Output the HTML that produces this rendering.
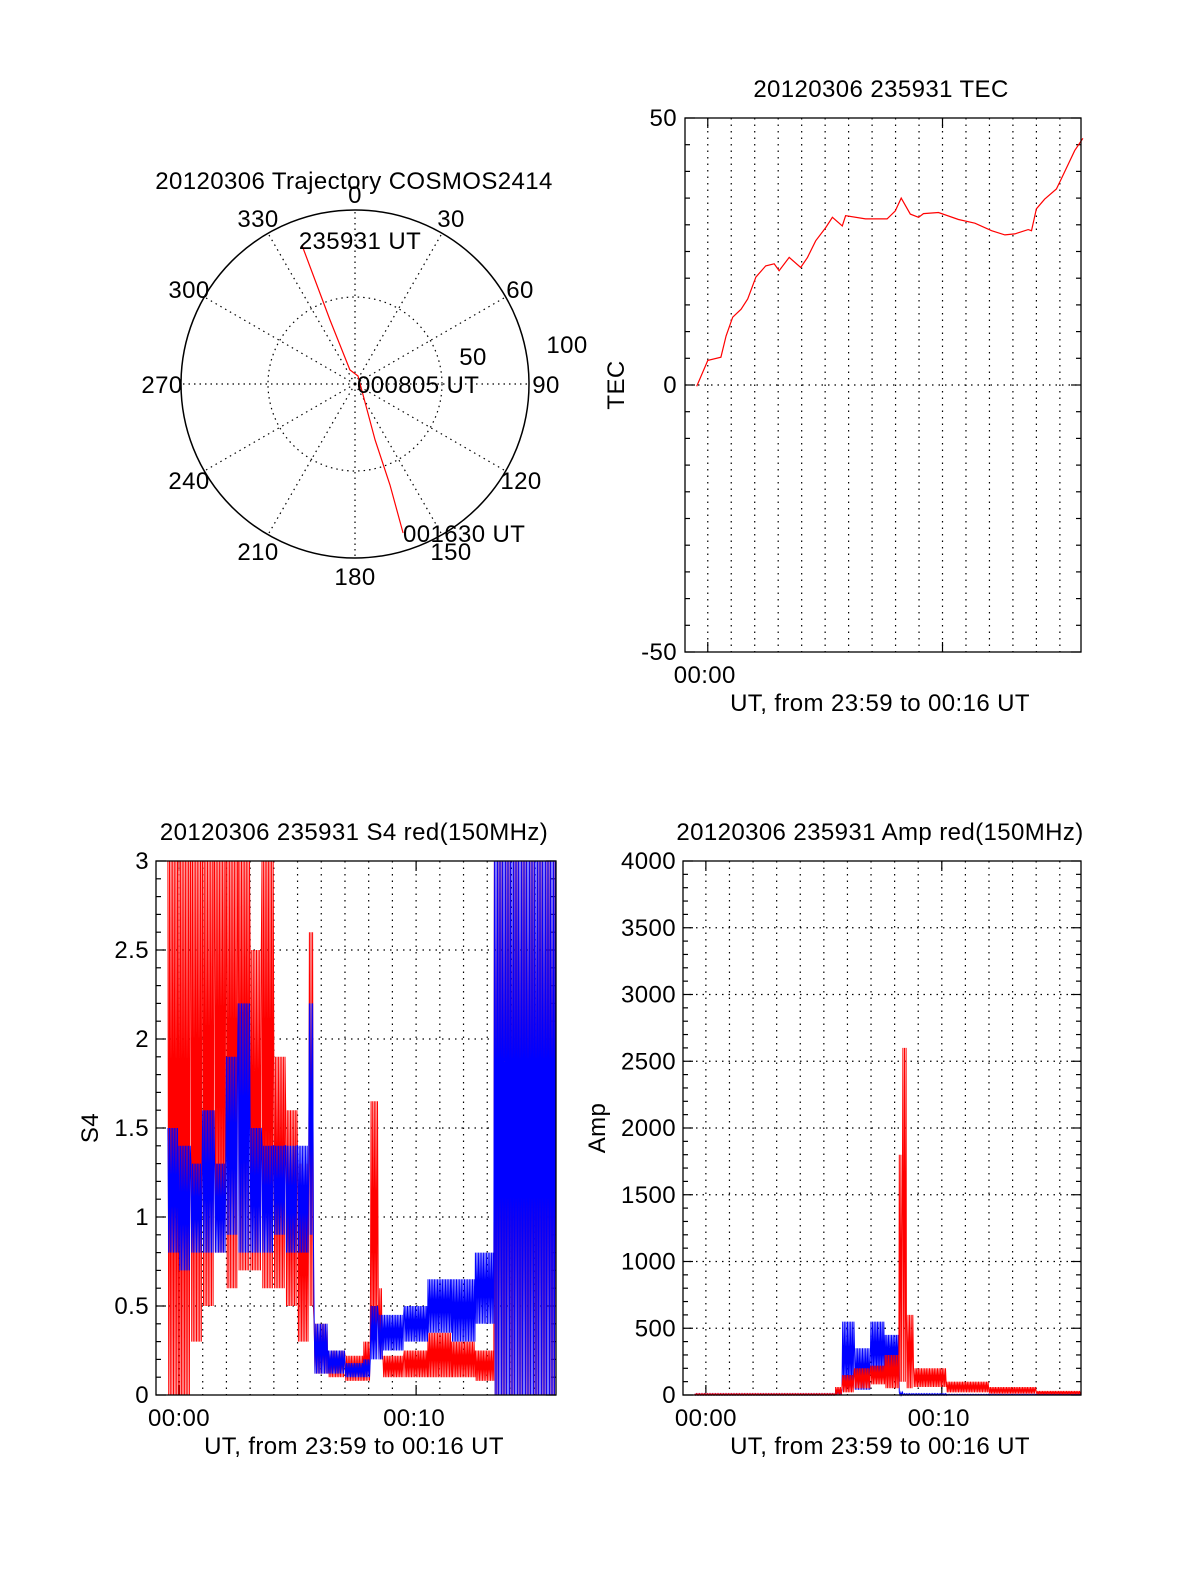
<!DOCTYPE html>
<html><head><meta charset="utf-8"><style>
html,body{margin:0;padding:0;background:#fff;overflow:hidden;width:1200px;height:1575px}
svg{display:block}
svg text{font-family:"Liberation Sans",Arial,sans-serif;font-size:24px;letter-spacing:0.4px;fill:#000}
</style></head><body>
<svg id="chart" width="1200" height="1575" viewBox="0 0 1200 1575" xmlns="http://www.w3.org/2000/svg"></svg>
<script>
// ---- Data ----
const trajR  = [85.5, 39.5, 8.6, 4.9, 34.2, 61.4, 90];
const trajAz = [339.1, 338.7, 340, 20.6, 160.3, 160.9, 162.1];
const polarLabels = ["0","30","60","90","120","150","180","210","240","270","300","330"];
const tecTime = [-0.47,0.00,0.56,0.78,1.06,1.42,1.70,2.05,2.47,2.83,3.04,3.47,3.96,4.25,4.60,5.03,5.31,5.73,5.87,6.72,7.64,7.99,8.24,8.63,8.98,9.19,9.83,10.68,11.38,12.09,12.66,13.08,13.65,13.79,14.00,14.35,14.85,15.06,15.63,15.98];
const tecVal  = [-0.25,4.6,5.2,9.2,12.7,14.2,16.1,20.2,22.3,22.7,21.4,23.9,22.0,23.9,27.0,29.5,31.4,29.8,31.7,31.1,31.1,32.6,35.0,32.0,31.4,32.1,32.3,31.0,30.3,28.9,28.1,28.3,29.1,28.9,33.0,34.8,36.7,38.6,43.9,46.2];
const tecTicks = ["50","0","-50"];
const s4T0    = [-0.47,0.0,0.5,1.0,1.5,2.0,2.5,3.0,3.5,4.0,4.5,5.0,5.5,5.7,6.3,7.0,7.8,8.1,8.4,8.6,9.5,10.5,11.5,12.5,13.3];
const s4T1    = [0.0,0.5,1.0,1.5,2.0,2.5,3.0,3.5,4.0,4.5,5.0,5.5,5.7,6.3,7.0,7.8,8.1,8.4,8.6,9.5,10.5,11.5,12.5,13.3,15.9];
const s4RedLo = [0,0,0.3,0.5,0.8,0.6,0.7,0.7,0.6,0.6,0.5,0.3,0.5,0.12,0.1,0.08,0.08,0.3,0.2,0.1,0.1,0.1,0.1,0.08,0];
const s4RedHi = [3,3,3,3,3,3,3,2.5,3,1.9,1.6,1.3,2.6,0.4,0.25,0.22,0.3,1.65,0.6,0.22,0.25,0.35,0.3,0.25,3];
const s4BlueLo= [0.8,0.7,0.8,0.8,0.8,0.9,0.8,0.8,0.8,0.9,0.8,0.8,0.9,0.12,0.12,0.1,0.1,0.2,0.2,0.25,0.3,0.35,0.3,0.4,0];
const s4BlueHi= [1.5,1.4,1.3,1.6,1.3,1.9,2.2,1.5,1.4,1.4,1.4,1.4,2.2,0.4,0.25,0.18,0.2,0.5,0.45,0.45,0.5,0.65,0.65,0.8,3];
const s4Ticks = ["0","0.5","1","1.5","2","2.5","3"];
const ampT0    = [-0.47,5.5,5.8,6.3,7.0,7.6,8.2,8.35,8.5,8.8,10.2,12.0,14.0];
const ampT1    = [5.5,5.8,6.3,7.0,7.6,8.2,8.35,8.5,8.8,10.2,12.0,14.0,15.9];
const ampRedLo = [0,0,20,50,80,50,100,100,50,60,20,10,5];
const ampRedHi = [10,60,150,200,220,300,1800,2600,600,200,100,60,30];
const ampBlueLo= [0,0,50,40,150,200,0,0,0,0,0,0,0];
const ampBlueHi= [10,40,550,350,550,450,20,10,10,10,5,5,5];
const ampTicks = ["0","500","1000","1500","2000","2500","3000","3500","4000"];

// ---- Helpers ----
const NS="http://www.w3.org/2000/svg";
const svg=document.getElementById('chart');
function mk(tag,attrs,parent){const e=document.createElementNS(NS,tag);for(const k in attrs)e.setAttribute(k,attrs[k]);(parent||svg).appendChild(e);return e;}
function txt(s,x,y,anchor,parent){const e=mk('text',{x:x,y:y,'text-anchor':anchor||'middle'},parent);e.textContent=s;return e;}
const TMIN=-0.97,TMAX=15.9;

function makePanel(name,L,T,W,H,ymin,ymax){
  const g=mk('g',{});
  
  
  const sx=t=>L+(t-TMIN)/(TMAX-TMIN)*W;
  const sy=v=>T+H-(v-ymin)/(ymax-ymin)*H;
  return {g,sx,sy,L,T,W,H};
}
function frame(p,name){
  const r=mk('rect',{x:p.L,y:p.T,width:p.W,height:p.H,fill:'none',stroke:'#000','stroke-width':1.3},p.g);
  
  
}
function vgrid(p){
  for(let m=0;m<=15;m++){
    const x=p.sx(m);
    const l=mk('line',{x1:x,y1:p.T,x2:x,y2:p.T+p.H,stroke:'#000','stroke-width':1.2,'stroke-dasharray':'1.5,5'},p.g);
    
    
    if(m%10===0){
      mk('line',{x1:x,y1:p.T+p.H,x2:x,y2:p.T+p.H-10,stroke:'#000','stroke-width':1.2},p.g);
      mk('line',{x1:x,y1:p.T,x2:x,y2:p.T+10,stroke:'#000','stroke-width':1.2},p.g);
    }
  }
}
function ytick(p,v,len){
  const y=p.sy(v);
  mk('line',{x1:p.L,y1:y,x2:p.L+len,y2:y,stroke:'#000','stroke-width':1.2},p.g);
  mk('line',{x1:p.L+p.W,y1:y,x2:p.L+p.W-len,y2:y,stroke:'#000','stroke-width':1.2},p.g);
}
function hgrid(p,v){
  const y=p.sy(v);
  const l=mk('line',{x1:p.L,y1:y,x2:p.L+p.W,y2:y,stroke:'#000','stroke-width':1.2,'stroke-dasharray':'1.5,5'},p.g);
  
  
}
function envelope(p,t0,t1,lo,hi,color,name){
  let d='';
  for(let i=0;i<t0.length;i++){
    const xa=p.sx(t0[i]),xb=p.sx(t1[i]);
    let k=0;
    for(let x=xa;x<=xb;x+=0.8,k++){
      const v=(k%2===0)?hi[i]:lo[i];
      d+=(d===''?'M':'L')+x.toFixed(1)+','+p.sy(v).toFixed(1);
    }
  }
  const path=mk('path',{d:d,fill:'none',stroke:color,'stroke-width':1},p.g);
  
  
}

// ---- Polar trajectory ----
(function(){
  const g=mk('g',{});
  
  
  const cx=355,cy=384,R=174;
  const t=txt('20120306 Trajectory COSMOS2414',354,189,'middle',g);
  
  
  for(let a=0;a<360;a+=30){
    const rad=a*Math.PI/180;
    mk('line',{x1:cx,y1:cy,x2:cx+R*Math.sin(rad),y2:cy-R*Math.cos(rad),stroke:'#000','stroke-width':1.2,'stroke-dasharray':'1.5,4'},g);
  }
  mk('circle',{cx:cx,cy:cy,r:87,fill:'none',stroke:'#000','stroke-width':1.2,'stroke-dasharray':'1.5,4'},g);
  const oc=mk('circle',{cx:cx,cy:cy,r:R,fill:'none',stroke:'#000','stroke-width':1.5},g);
  
  
  const pos=[[355,203],[451,227],[520,298],[546,393],[521,489],[451,560],[355,585],[258,560],[189,489],[162,393],[189,298],[258,227]];
  polarLabels.forEach((s,i)=>{const e=txt(s,pos[i][0],pos[i][1],'middle',g);
    
    });
  txt('50',473,365,'middle',g);
  txt('100',567,353,'middle',g);
  let d='';
  trajR.forEach((r,i)=>{const rad=trajAz[i]*Math.PI/180;const rr=r/100*R;
    d+=(i?'L':'M')+(cx+rr*Math.sin(rad)).toFixed(1)+','+(cy-rr*Math.cos(rad)).toFixed(1);});
  const tp=mk('path',{d:d,fill:'none',stroke:'#f00','stroke-width':1.2},g);
  
  
  txt('235931 UT',360,249,'middle',g);
  txt('000805 UT',357,393,'start',g);
  txt('001630 UT',403,542,'start',g);
})();

// ---- TEC ----
(function(){
  const p=makePanel('tec-plot',685,118,396,534,-50,50);
  const t=txt('20120306 235931 TEC',881,97,'middle',p.g);
  
  
  vgrid(p); hgrid(p,0);
  for(let v=-50;v<=50;v+=5) ytick(p,v,(v%50===0)?10:5);
  let d='';
  tecTime.forEach((tm,i)=>{d+=(i?'L':'M')+p.sx(tm).toFixed(1)+','+p.sy(tecVal[i]).toFixed(1);});
  const l=mk('path',{d:d,fill:'none',stroke:'#f00','stroke-width':1.2},p.g);
  
  
  frame(p,'tec-frame');
  [50,0,-50].forEach((v,i)=>txt(tecTicks[i],677,p.sy(v)+8,'end',p.g));
  txt('00:00',p.sx(0)-3,683,'middle',p.g);
  const xl=txt('UT, from 23:59 to 00:16 UT',880,711,'middle',p.g);
  
  
  const yl=txt('TEC',0,0,'middle',p.g);
  yl.setAttribute('transform','translate(624,385) rotate(-90)');
  
  
})();

// ---- S4 ----
(function(){
  const p=makePanel('s4-plot',156,861,400,534,0,3);
  const t=txt('20120306 235931 S4 red(150MHz)',354,840,'middle',p.g);
  
  
  vgrid(p);
  for(let i=1;i<6;i++) hgrid(p,i*0.5);
  for(let i=0;i<=30;i++) ytick(p,i/10,(i%5===0)?10:5);
  envelope(p,s4T0,s4T1,s4RedLo,s4RedHi,'#f00','s4-red-series');
  envelope(p,s4T0,s4T1,s4BlueLo,s4BlueHi,'#00f','s4-blue-series');
  frame(p,'s4-frame');
  s4Ticks.forEach((s,i)=>txt(s,149,p.sy(i*0.5)+8,'end',p.g));
  txt('00:00',p.sx(0),1426,'middle',p.g);
  txt('00:10',p.sx(10)-2,1426,'middle',p.g);
  const xl=txt('UT, from 23:59 to 00:16 UT',354,1454,'middle',p.g);
  
  
  const yl=txt('S4',0,0,'middle',p.g);
  yl.setAttribute('transform','translate(98,1128) rotate(-90)');
  
  
})();

// ---- Amp ----
(function(){
  const p=makePanel('amp-plot',683,861,398,534,0,4000);
  const t=txt('20120306 235931 Amp red(150MHz)',880,840,'middle',p.g);
  
  
  vgrid(p);
  for(let i=1;i<8;i++) hgrid(p,i*500);
  for(let i=0;i<=40;i++) ytick(p,i*100,(i%5===0)?10:5);
  envelope(p,ampT0,ampT1,ampBlueLo,ampBlueHi,'#00f','amp-blue-series');
  envelope(p,ampT0,ampT1,ampRedLo,ampRedHi,'#f00','amp-red-series');
  frame(p,'amp-frame');
  ampTicks.forEach((s,i)=>txt(s,676,p.sy(i*500)+8,'end',p.g));
  txt('00:00',p.sx(0),1426,'middle',p.g);
  txt('00:10',p.sx(10)-3,1426,'middle',p.g);
  const xl=txt('UT, from 23:59 to 00:16 UT',880,1454,'middle',p.g);
  
  
  const yl=txt('Amp',0,0,'middle',p.g);
  yl.setAttribute('transform','translate(605,1128) rotate(-90)');
  
  
})();
</script>
</body></html>
